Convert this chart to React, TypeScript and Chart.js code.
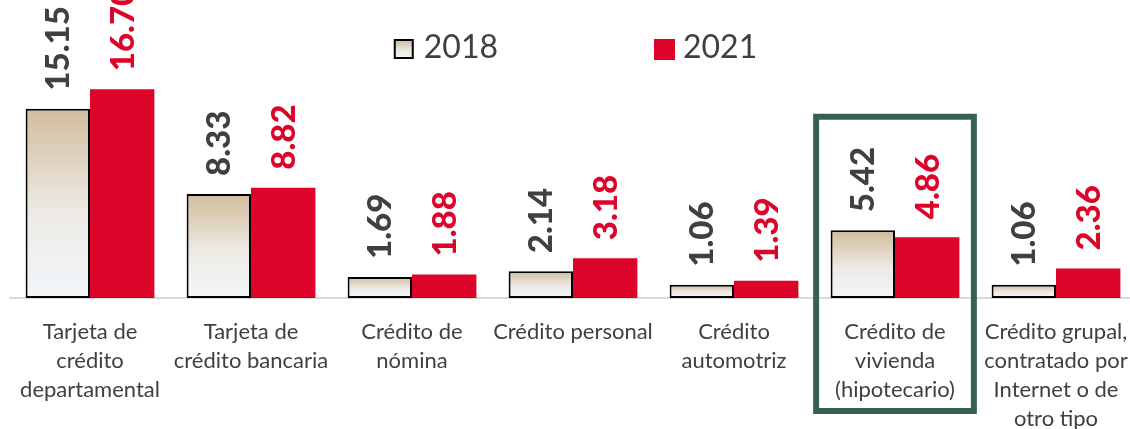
import React, { useEffect, useRef } from 'react';
import { Chart, registerables } from 'chart.js';

Chart.register(...registerables);

const categories: string[][] = [
  ['Tarjeta de', 'crédito', 'departamental'],
  ['Tarjeta de', 'crédito bancaria'],
  ['Crédito de', 'nómina'],
  ['Crédito personal'],
  ['Crédito', 'automotriz'],
  ['Crédito de', 'vivienda', '(hipotecario)'],
  ['Crédito grupal,', 'contratado por', 'Internet o de', 'otro tipo'],
];
const seriesNames = ['2018', '2021'];
const values2018 = [15.15, 8.33, 1.69, 2.14, 1.06, 5.42, 1.06];
const values2021 = [16.7, 8.82, 1.88, 3.18, 1.39, 4.86, 2.36];
const highlightIndex = 5;

const RED = '#DC0529';
const GRAY_TEXT = '#404040';
const GREEN = '#346356';
const FONT = 'Lato, "Open Sans", sans-serif';

function beigeGradient(ctx: CanvasRenderingContext2D, yTop: number, yBottom: number) {
  const g = ctx.createLinearGradient(0, yTop, 0, yBottom);
  g.addColorStop(0, '#D1BD9C');
  g.addColorStop(0.55, '#EDEAE5');
  g.addColorStop(1, '#F2F6FA');
  return g;
}

const valueLabelsPlugin = {
  id: 'valueLabels',
  afterDatasetsDraw(chart: any) {
    const ctx = chart.ctx as CanvasRenderingContext2D;
    chart.data.datasets.forEach((ds: any, di: number) => {
      const meta = chart.getDatasetMeta(di);
      meta.data.forEach((el: any, i: number) => {
        const v = ds.data[i] as number;
        ctx.save();
        ctx.translate(el.x + 1, el.y - 18);
        ctx.rotate(-Math.PI / 2);
        ctx.font = `900 33px ${FONT}`;
        ctx.fillStyle = di === 0 ? GRAY_TEXT : RED;
        ctx.textAlign = 'left';
        ctx.textBaseline = 'middle';
        ctx.fillText(v.toFixed(2), 0, 0);
        ctx.restore();
      });
    });
  },
};

const legendPlugin = {
  id: 'customLegend',
  afterDraw(chart: any) {
    const ctx = chart.ctx as CanvasRenderingContext2D;
    const { left, right, top } = chart.chartArea;
    const cx = (left + right) / 2 + 3;
    const cy = top + 48;
    ctx.save();
    ctx.font = `32px ${FONT}`;
    const box = 20;
    const gapBoxText = 9;
    const itemGap = 156;
    const w0 = ctx.measureText(seriesNames[0]).width;
    const w1 = ctx.measureText(seriesNames[1]).width;
    const total = box + gapBoxText + w0 + itemGap + box + gapBoxText + w1;
    let x = cx - total / 2;
    const by = cy - box / 2 + 2;
    ctx.fillStyle = beigeGradient(ctx, by, by + box);
    ctx.fillRect(x, by, box - 2, box - 2);
    ctx.strokeStyle = '#000';
    ctx.lineWidth = 2;
    ctx.strokeRect(x, by, box - 2, box - 2);
    x += box + gapBoxText;
    ctx.fillStyle = GRAY_TEXT;
    ctx.textBaseline = 'middle';
    ctx.textAlign = 'left';
    ctx.fillText(seriesNames[0], x, cy);
    x += w0 + itemGap;
    ctx.fillStyle = RED;
    ctx.fillRect(x, by - 1, box + 1, box + 1);
    x += box + gapBoxText;
    ctx.fillStyle = GRAY_TEXT;
    ctx.fillText(seriesNames[1], x, cy);
    ctx.restore();
  },
};

const highlightPlugin = {
  id: 'highlightBox',
  afterDraw(chart: any) {
    const ctx = chart.ctx as CanvasRenderingContext2D;
    const xs = chart.scales.x;
    const ys = chart.scales.y;
    const cxp = xs.getPixelForValue(highlightIndex);
    const half = (xs.getPixelForValue(1) - xs.getPixelForValue(0)) * 0.49;
    const topY = ys.getPixelForValue(14.5);
    const bottomY = chart.chartArea.bottom + 113;
    ctx.save();
    ctx.strokeStyle = GREEN;
    ctx.lineWidth = 6;
    ctx.strokeRect(cxp - half, topY, half * 2, bottomY - topY);
    ctx.restore();
  },
};

export default function App() {
  const ref = useRef<HTMLCanvasElement | null>(null);
  useEffect(() => {
    document.body.style.margin = '0';
    if (!ref.current) return;
    const chart = new Chart(ref.current, {
      type: 'bar',
      data: {
        labels: categories,
        datasets: [
          {
            label: seriesNames[0],
            data: values2018,
            backgroundColor: (c: any) => {
              const ch = c.chart;
              const ys = ch.scales && ch.scales.y;
              if (!ch.chartArea || !ys || c.raw == null) return '#E6DDCF';
              return beigeGradient(ch.ctx, ys.getPixelForValue(c.raw), ys.getPixelForValue(0));
            },
            borderColor: '#000000',
            borderWidth: 2,
            borderSkipped: false,
            categoryPercentage: 0.8,
            barPercentage: 1.0,
          },
          {
            label: seriesNames[1],
            data: values2021,
            backgroundColor: RED,
            borderWidth: 0,
            categoryPercentage: 0.8,
            barPercentage: 1.0,
          },
        ],
      },
      options: {
        responsive: false,
        animation: false,
        layout: { padding: { left: 9.5, right: 3.5, top: 0, bottom: 0 } },
        plugins: {
          legend: { display: false },
          tooltip: { enabled: false },
          title: { display: false },
        },
        scales: {
          x: {
            grid: { display: false },
            border: { display: true, color: '#D9D9D9', width: 2 },
            ticks: {
              color: GRAY_TEXT,
              font: { family: FONT, size: 22, lineHeight: 1.32 },
              padding: 11,
              maxRotation: 0,
              autoSkip: false,
            },
            afterFit: (scale: any) => {
              scale.height = 131;
            },
          } as any,
          y: {
            display: false,
            min: 0,
            max: 23.84,
          },
        },
      } as any,
      plugins: [valueLabelsPlugin, legendPlugin, highlightPlugin],
    });
    return () => chart.destroy();
  }, []);
  return (
    <div style={{ position: 'fixed', left: 0, top: 0, width: 1130, height: 429, overflow: 'hidden', background: '#fff' }}>
      <canvas ref={ref} width={1140} height={429} style={{ width: 1140, height: 429, display: 'block' }} />
    </div>
  );
}
